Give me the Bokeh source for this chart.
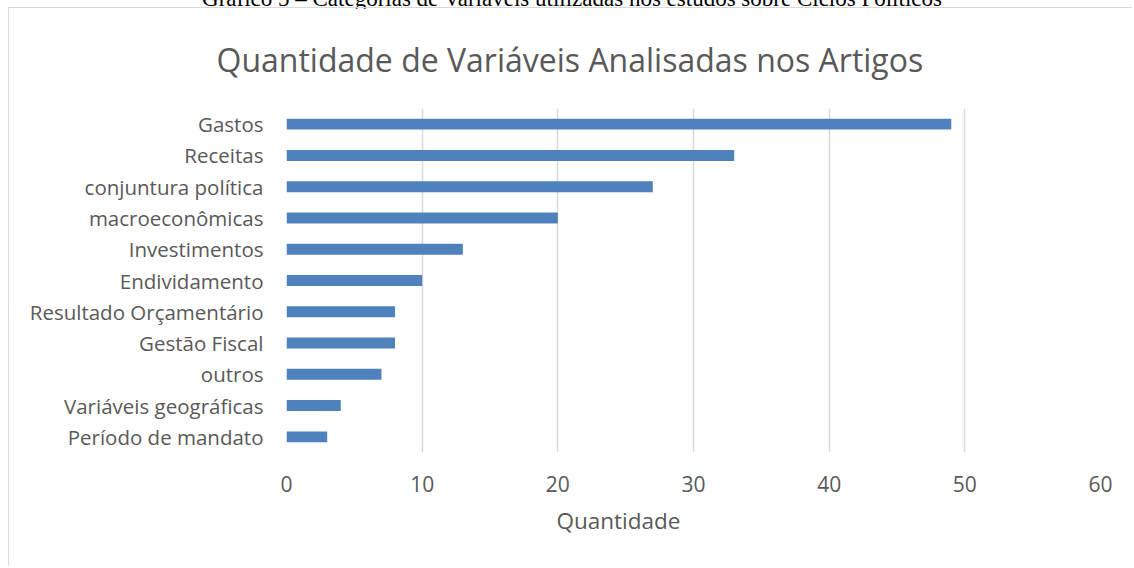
from bokeh.plotting import figure
from bokeh.models import Range1d, FactorRange, FixedTicker, Title, Div
from bokeh.layouts import column
from bokeh.embed import file_html
from bokeh.resources import INLINE

categories = ["Gastos", "Receitas", "conjuntura política", "macroeconômicas",
              "Investimentos", "Endividamento", "Resultado Orçamentário",
              "Gestão Fiscal", "outros", "Variáveis geográficas", "Período de mandato"]
values = [49, 33, 27, 20, 13, 10, 8, 8, 7, 4, 3]
x_ticks = [0, 10, 20, 30, 40, 50, 60]
caption_text = "Gráfico 5 – Categorias de Variáveis utilizadas nos estudos sobre Ciclos Políticos"
title_text = "Quantidade de Variáveis Analisadas nos Artigos"
x_title = "Quantidade"

FONT = "Open Sans"
GRAY = "#595959"

caption = Div(text=caption_text, width=1114, height=14,
              styles={"margin-top": "-12px", "padding-left": "20px",
                      "text-align": "center", "font-family": "Liberation Serif",
                      "font-size": "23px", "line-height": "22px", "color": "#000000",
                      "overflow": "visible", "white-space": "nowrap"})

p = figure(width=1124, height=559, output_backend="svg", toolbar_location=None,
           y_range=FactorRange(factors=list(reversed(categories))),
           x_range=Range1d(0, 60),
           min_border_left=277, min_border_right=33,
           min_border_top=98, min_border_bottom=115)
p.styles = {"margin-left": "8px",
            "border-top": "1px solid #d9d9d9", "border-left": "1px solid #d9d9d9"}
p.outline_line_color = None
p.background_fill_color = "white"
p.border_fill_color = "white"

p.hbar(y=categories, right=values, left=0, height=0.35, color="#4F81BD", line_color=None)

# axes
p.xaxis.ticker = FixedTicker(ticks=x_ticks)
p.xaxis.axis_line_color = None
p.xaxis.major_tick_line_color = None
p.xaxis.minor_tick_line_color = None
p.xaxis.major_label_text_font = FONT
p.xaxis.major_label_text_font_size = "21px"
p.xaxis.major_label_text_color = GRAY
p.xaxis.major_label_standoff = 17

p.yaxis.axis_line_color = None
p.yaxis.major_tick_line_color = None
p.yaxis.minor_tick_line_color = None
p.yaxis.major_label_text_font = FONT
p.yaxis.major_label_text_font_size = "20.5px"
p.yaxis.major_label_text_color = GRAY
p.yaxis.major_label_standoff = 17

p.xgrid.grid_line_color = "#d9d9d9"
p.xgrid.grid_line_width = 1.5
p.ygrid.grid_line_color = None

p.add_layout(Title(text=title_text, align="left", offset=-70, standoff=55,
                   text_font=FONT, text_font_size="32px", text_font_style="normal",
                   text_line_height=0.8, text_color=GRAY), "above")
p.add_layout(Title(text=x_title, align="left", offset=270, standoff=17,
                   text_font=FONT, text_font_size="22.5px", text_font_style="normal",
                   text_color=GRAY), "below")

layout = column(caption, p, spacing=0)
open("out.html", "w").write(file_html(layout, INLINE))
